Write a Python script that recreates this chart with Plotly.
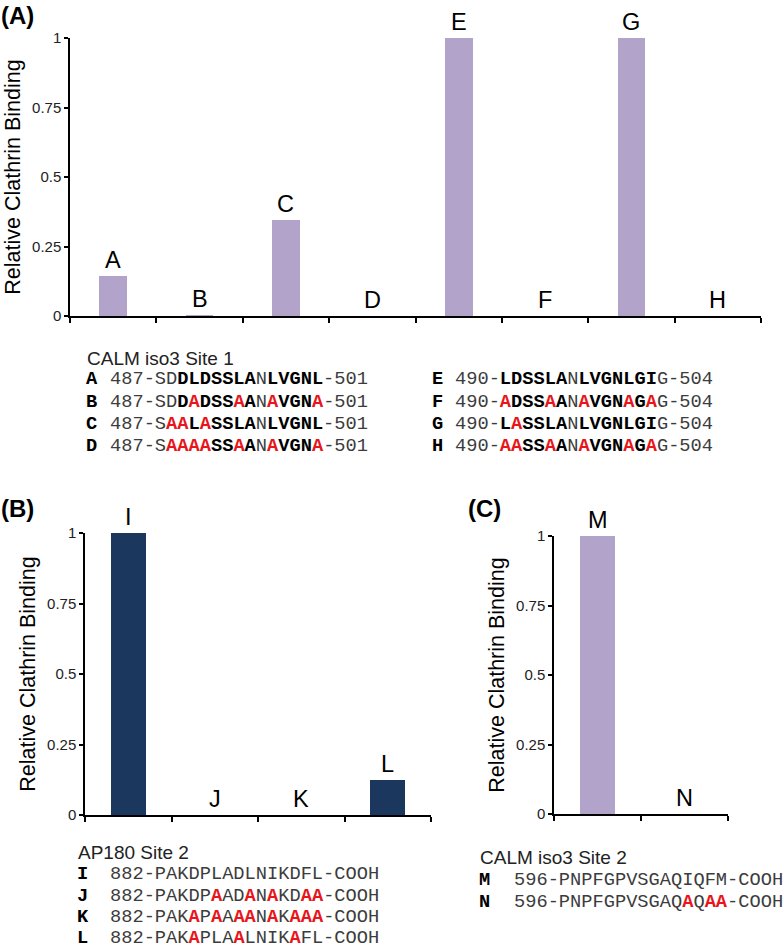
import plotly.graph_objects as go

W, H = 784, 950

# ---------------- data ----------------
cats_a = ["A", "B", "C", "D", "E", "F", "G", "H"]
vals_a = [0.145, 0.003, 0.345, 0.0, 1.0, 0.0, 1.0, 0.0]

cats_b = ["I", "J", "K", "L"]
vals_b = [1.0, 0.0, 0.0, 0.123]

cats_c = ["M", "N"]
vals_c = [1.0, 0.0]

ytick_vals = [0, 0.25, 0.5, 0.75, 1]
ytick_text = ["0", "0.25", "0.5", "0.75", "1"]
y_title = "Relative Clathrin Binding"

panel_labels = ["(A)", "(B)", "(C)"]
site_titles = ["CALM iso3 Site 1", "AP180 Site 2", "CALM iso3 Site 2"]

# sequences; style per character: n = plain, b = bold, r = bold red (mutated)
seq_a_left = ["487-SDDLDSSLANLVGNL-501", "487-SDDADSSAANAVGNA-501",
              "487-SAALASSLANLVGNL-501", "487-SAAAASSAANAVGNA-501"]
sty_a_left = ["nnnnnnbbbbbbbnbbbbbnnnn", "nnnnnnbrbbbrbnrbbbrnnnn",
              "nnnnnrrbrbbbbnbbbbbnnnn", "nnnnnrrrrbbrbnrbbbrnnnn"]
seq_a_right = ["490-LDSSLANLVGNLGIG-504", "490-ADSSAANAVGNAGAG-504",
               "490-LASSLANLVGNLGIG-504", "490-AASSAANAVGNAGAG-504"]
sty_a_right = ["nnnnbbbbbbnbbbbbbbnnnnn", "nnnnrbbbrbnrbbbrbrnnnnn",
               "nnnnbrbbbbnbbbbbbbnnnnn", "nnnnrrbbrbnrbbbrbrnnnnn"]
seq_b = ["882-PAKDPLADLNIKDFL-COOH", "882-PAKDPAADANAKDAA-COOH",
         "882-PAKAPAAAANAKAAA-COOH", "882-PAKAPLAALNIKAFL-COOH"]
sty_b = ["nnnnnnnnnnnnnnnnnnnnnnnn", "nnnnnnnnnrnnrnrnnrrnnnnn",
         "nnnnnnnrnrnrrnrnrrrnnnnn", "nnnnnnnrnnnrnnnnrnnnnnnn"]
seq_c = ["596-PNPFGPVSGAQIQFM-COOH", "596-PNPFGPVSGAQAQAA-COOH"]
sty_c = ["nnnnnnnnnnnnnnnnnnnnnnnn", "nnnnnnnnnnnnnnnrnrrnnnnn"]

# ---------------- styles ----------------
PURPLE = "#b1a3c9"
NAVY = "#1b375d"
RED = "#e8161b"
PLAIN = "#3c3c3c"
SANS = "Liberation Sans, Arial, sans-serif"
MONO = "Liberation Mono, Courier New, monospace"


def px_x(x):
    return x / W


def px_y(y):
    return 1 - y / H


def seq_html(seq, sty):
    out = []
    i = 0
    while i < len(seq):
        j = i
        while j < len(seq) and sty[j] == sty[i]:
            j += 1
        t = seq[i:j]
        if sty[i] == "n":
            out.append(f"<span style='color:{PLAIN}'>{t}</span>")
        elif sty[i] == "b":
            out.append(f"<b>{t}</b>")
        else:
            out.append(f"<b><span style='color:{RED}'>{t}</span></b>")
        i = j
    return "".join(out)


fig = go.Figure()
fig.add_trace(go.Bar(x=cats_a, y=vals_a, xaxis="x", yaxis="y",
                     marker=dict(color=PURPLE, line_width=0), width=0.32))
fig.add_trace(go.Bar(x=cats_b, y=vals_b, xaxis="x2", yaxis="y2",
                     marker=dict(color=NAVY, line_width=0), width=0.4))
fig.add_trace(go.Bar(x=cats_c, y=vals_c, xaxis="x3", yaxis="y3",
                     marker=dict(color=PURPLE, line_width=0), width=0.4))


def xax(x0, x1, anchor, n):
    return dict(domain=[px_x(x0), px_x(x1)], anchor=anchor, type="category",
                range=[-0.5, n - 0.5], tickson="boundaries", ticks="outside",
                ticklen=5, tickwidth=1.5, tickcolor="black", showline=True,
                linecolor="black", linewidth=1.5, showticklabels=False,
                showgrid=False, zeroline=False, automargin=False)


def yax(y0, y1, anchor):
    return dict(domain=[px_y(y0), px_y(y1)], anchor=anchor, range=[0, 1],
                tickmode="array", tickvals=ytick_vals, ticktext=ytick_text,
                ticks="outside", ticklen=4, tickwidth=1.5, tickcolor="black",
                showline=True, linecolor="black", linewidth=1.5,
                showgrid=False, zeroline=False, automargin=False,
                tickfont=dict(family=SANS, size=15, color="#222222"),
                title=dict(text=y_title, font=dict(family=SANS, size=21.5, color="black"),
                           standoff=6))


fig.update_layout(
    template="none",
    font=dict(family=SANS, color="black"),
    width=W, height=H, margin=dict(l=0, r=0, t=0, b=0, pad=0, autoexpand=False),
    paper_bgcolor="white", plot_bgcolor="white", showlegend=False,
    xaxis=xax(70, 761, "y", len(cats_a)),
    yaxis=yax(316, 38, "x"),
    xaxis2=xax(85, 431, "y2", len(cats_b)),
    yaxis2=yax(815, 533, "x2"),
    xaxis3=xax(554, 728, "y3", len(cats_c)),
    yaxis3=yax(814, 536, "x3"),
    bargap=0,
)

ann = []
# bar letters
for cats, vals, xr, yr in [(cats_a, vals_a, "x", "y"), (cats_b, vals_b, "x2", "y2"),
                           (cats_c, vals_c, "x3", "y3")]:
    for c, v in zip(cats, vals):
        ann.append(dict(x=c, y=v, xref=xr, yref=yr, text=c, showarrow=False,
                        yanchor="bottom", yshift=1,
                        font=dict(family=SANS, size=23.5, color="black")))

# panel labels
for lab, x, y in zip(panel_labels, [-1, -1, 466], [15, 508, 508]):
    ann.append(dict(x=px_x(x), y=px_y(y), xref="paper", yref="paper", text=f"<b>{lab}</b>",
                    showarrow=False, xanchor="left", yanchor="middle",
                    font=dict(family=SANS, size=24, color="black")))

# site titles
for t, x, y in zip(site_titles, [85, 76, 478], [358, 852, 857]):
    ann.append(dict(x=px_x(x), y=px_y(y), xref="paper", yref="paper", text=t,
                    showarrow=False, xanchor="left", yanchor="middle",
                    font=dict(family=SANS, size=19, color="#222222")))


def add_rows(cats, seqs, stys, xl, xs, ys):
    for c, s, st, y in zip(cats, seqs, stys, ys):
        ann.append(dict(x=px_x(xl), y=px_y(y), xref="paper", yref="paper",
                        text=f"<b>{c}</b>", showarrow=False, xanchor="left", yanchor="middle",
                        font=dict(family=MONO, size=18.7, color="black")))
        ann.append(dict(x=px_x(xs), y=px_y(y), xref="paper", yref="paper",
                        text=seq_html(s, st), showarrow=False, xanchor="left", yanchor="middle",
                        font=dict(family=MONO, size=18.7, color="black")))


rows_a = [379, 401.5, 423.5, 446]
add_rows(cats_a[:4], seq_a_left, sty_a_left, 84, 108, rows_a)
add_rows(cats_a[4:], seq_a_right, sty_a_right, 430, 453, rows_a)
add_rows(cats_b, seq_b, sty_b, 75, 108, [874, 895.5, 917, 938])
add_rows(cats_c, seq_c, sty_c, 477, 512, [880, 902])

fig.update_layout(annotations=ann)
fig.write_html("out.html", config={"displayModeBar": False},
               post_script="document.body.style.margin='0';document.body.style.overflow='hidden';")
